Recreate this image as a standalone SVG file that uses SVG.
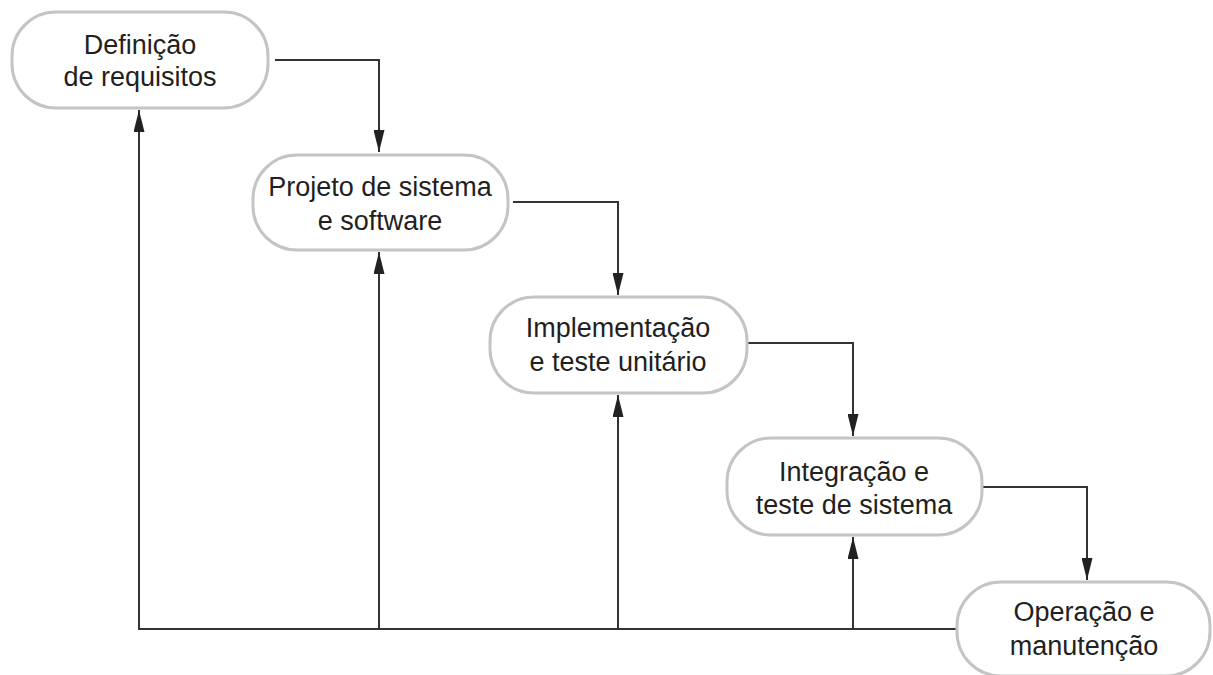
<svg xmlns="http://www.w3.org/2000/svg" width="1213" height="675" viewBox="0 0 1213 675">
  <style>
    .box { fill: #ffffff; stroke: #c4c4c4; stroke-width: 3; }
    .lbl { font-family: "Liberation Sans", Arial, sans-serif; font-size: 27px; fill: #231f20; text-anchor: middle; }
    .conn { fill: none; stroke: #333333; stroke-width: 2; }
  </style>
  <defs>
    <marker id="arr" markerUnits="userSpaceOnUse" markerWidth="22" markerHeight="11" refX="22" refY="5.5" orient="auto">
      <path d="M0,0 L22,5.5 L0,11 z" fill="#222222"/>
    </marker>
  </defs>
  <rect width="1213" height="675" fill="#ffffff"/>

  <g id="connectors">
    <path class="conn" d="M275,60 H379 V152" marker-end="url(#arr)"/>
    <path class="conn" d="M513,202 H618 V295" marker-end="url(#arr)"/>
    <path class="conn" d="M748,343 H853 V436" marker-end="url(#arr)"/>
    <path class="conn" d="M983,487 H1087 V580" marker-end="url(#arr)"/>
    <path class="conn" d="M957,629 H139 V110" marker-end="url(#arr)"/>
    <path class="conn" d="M379,629 V252" marker-end="url(#arr)"/>
    <path class="conn" d="M618,629 V395" marker-end="url(#arr)"/>
    <path class="conn" d="M853,629 V537" marker-end="url(#arr)"/>
  </g>

  <g id="node-definicao">
    <rect class="box" x="12" y="12" width="256" height="96" rx="44" ry="44"/>
    <text class="lbl" x="140" y="54">Definição</text>
    <text class="lbl" x="140" y="86">de requisitos</text>
  </g>
  <g id="node-projeto">
    <rect class="box" x="253" y="155" width="255" height="95" rx="44" ry="44"/>
    <text class="lbl" x="380" y="196">Projeto de sistema</text>
    <text class="lbl" x="380" y="230">e software</text>
  </g>
  <g id="node-implementacao">
    <rect class="box" x="490" y="297" width="257" height="96" rx="44" ry="44"/>
    <text class="lbl" x="618" y="337">Implementação</text>
    <text class="lbl" x="618" y="371">e teste unitário</text>
  </g>
  <g id="node-integracao">
    <rect class="box" x="727" y="438" width="255" height="97" rx="44" ry="44"/>
    <text class="lbl" x="854" y="481">Integração e</text>
    <text class="lbl" x="854" y="514">teste de sistema</text>
  </g>
  <g id="node-operacao">
    <rect class="box" x="957" y="582" width="253" height="94" rx="44" ry="44"/>
    <text class="lbl" x="1084" y="621">Operação e</text>
    <text class="lbl" x="1084" y="655">manutenção</text>
  </g>
</svg>
